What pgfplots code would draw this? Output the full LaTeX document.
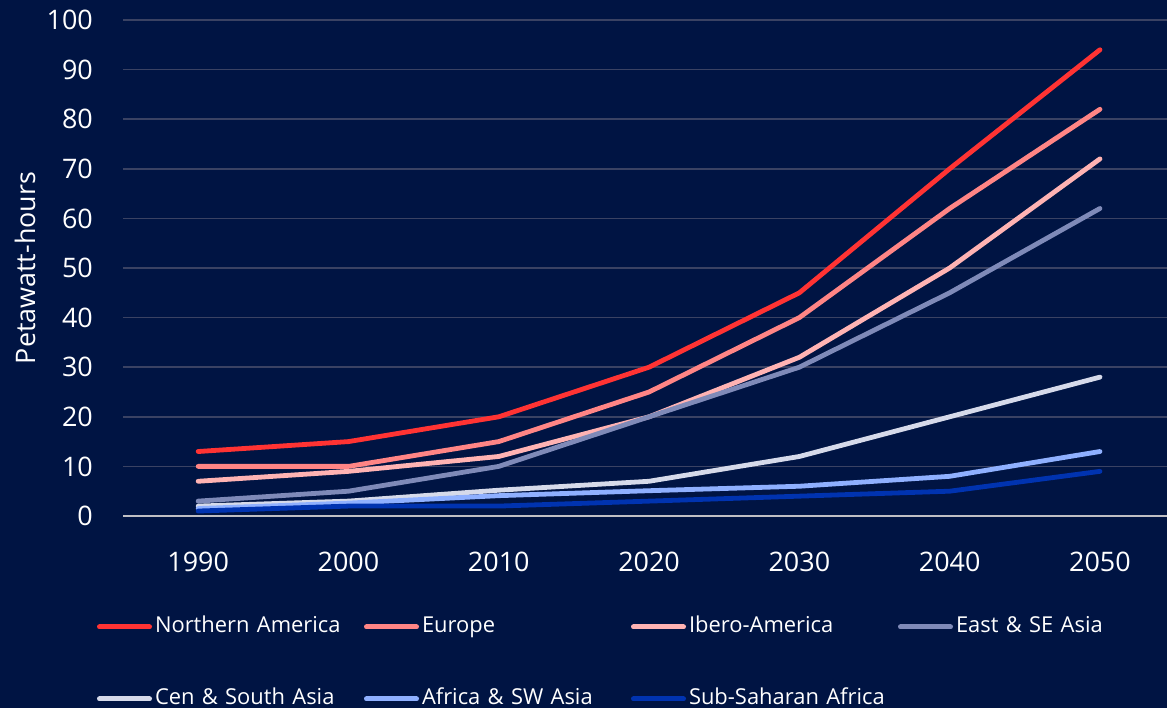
\documentclass[border=0pt]{standalone}
\usepackage{pgfplots}
\pgfplotsset{compat=1.18}
\usepackage{fontspec}
\setmainfont{Open Sans}
\definecolor{bg}{HTML}{001443}
\definecolor{gridc}{HTML}{3A4263}
\definecolor{zeroc}{HTML}{BFBFC4}
\definecolor{cnam}{HTML}{FF3333}
\definecolor{ceur}{HTML}{FF8585}
\definecolor{cibe}{HTML}{FFB3B3}
\definecolor{ceas}{HTML}{7F8AB8}
\definecolor{ccen}{HTML}{D6DAEA}
\definecolor{cafr}{HTML}{8FB0FF}
\definecolor{cssa}{HTML}{0033B0}
\begin{document}
\begin{tikzpicture}
\fill[bg] (0bp,0bp) rectangle (1167bp,708bp);
\useasboundingbox (0bp,0bp) rectangle (1167bp,708bp);
\begin{axis}[
  at={(123bp,192bp)}, anchor=south west,
  scale only axis, width=1044bp, height=496bp,
  xmin=-0.5, xmax=6.446, ymin=0, ymax=100,
  xtick={0,...,6},
  xticklabels={1990,2000,2010,2020,2030,2040,2050},
  ytick={0,10,...,100},
  extra y ticks={0}, extra y tick labels={},
  extra y tick style={grid style={color=zeroc, line width=2bp}},
  ymajorgrids,
  grid style={color=gridc, line width=1.5bp},
  axis line style={draw=none},
  major tick length=0pt,
  /pgf/number format/assume math mode=true,
  tick label style={text=white, font=\fontsize{27}{32}\selectfont},
  yticklabel style={anchor=east, inner sep=0pt, xshift=-30bp},
  xticklabel style={anchor=north, inner sep=0pt, yshift=-36bp},
  ylabel={Petawatt-hours},
  ylabel style={at={(axis description cs:-0.0939,0.5)}, anchor=center, text=white, font=\fontsize{27}{32}\selectfont},
  legend columns=4,
  legend cell align=left,
  legend style={at={(axis description cs:-0.0249,-0.2963)}, anchor=west, draw=none, fill=none,
    text=white, font=\fontsize{22}{26}\selectfont, inner sep=0pt, outer sep=0pt,
    row sep=51bp, column sep=3bp,
    /tikz/every even column/.append style={column sep=9bp},
    nodes={inner sep=0pt, text height=16bp, text depth=5bp, text width=200bp, align=left}},
  legend image code/.code={\draw[#1, line width=5bp, line cap=round] (0bp,0bp) -- (50bp,0bp);},
  every axis plot/.append style={line width=4.8bp, line cap=round, line join=round, mark=none},
]
\addplot[cnam] coordinates {(0,13) (1,15) (2,20) (3,30) (4,45) (5,70) (6,94)};
\addlegendentry{Northern America}
\addplot[ceur] coordinates {(0,10) (1,10) (2,15) (3,25) (4,40) (5,62) (6,82)};
\addlegendentry{Europe}
\addplot[cibe] coordinates {(0,7) (1,9) (2,12) (3,20) (4,32) (5,50) (6,72)};
\addlegendentry{Ibero-America}
\addplot[ceas] coordinates {(0,3) (1,5) (2,10) (3,20) (4,30) (5,45) (6,62)};
\addlegendentry{East \& SE Asia}
\addplot[ccen] coordinates {(0,2) (1,3) (2,5.2) (3,7) (4,12) (5,20) (6,28)};
\addlegendentry{Cen \& South Asia}
\addplot[cafr] coordinates {(0,1.5) (1,2.6) (2,4.1) (3,5.1) (4,6) (5,8) (6,13)};
\addlegendentry{Africa \& SW Asia}
\addplot[cssa] coordinates {(0,1) (1,2) (2,2) (3,3) (4,4) (5,5) (6,9)};
\addlegendentry{Sub-Saharan Africa}
\end{axis}
\end{tikzpicture}
\end{document}
